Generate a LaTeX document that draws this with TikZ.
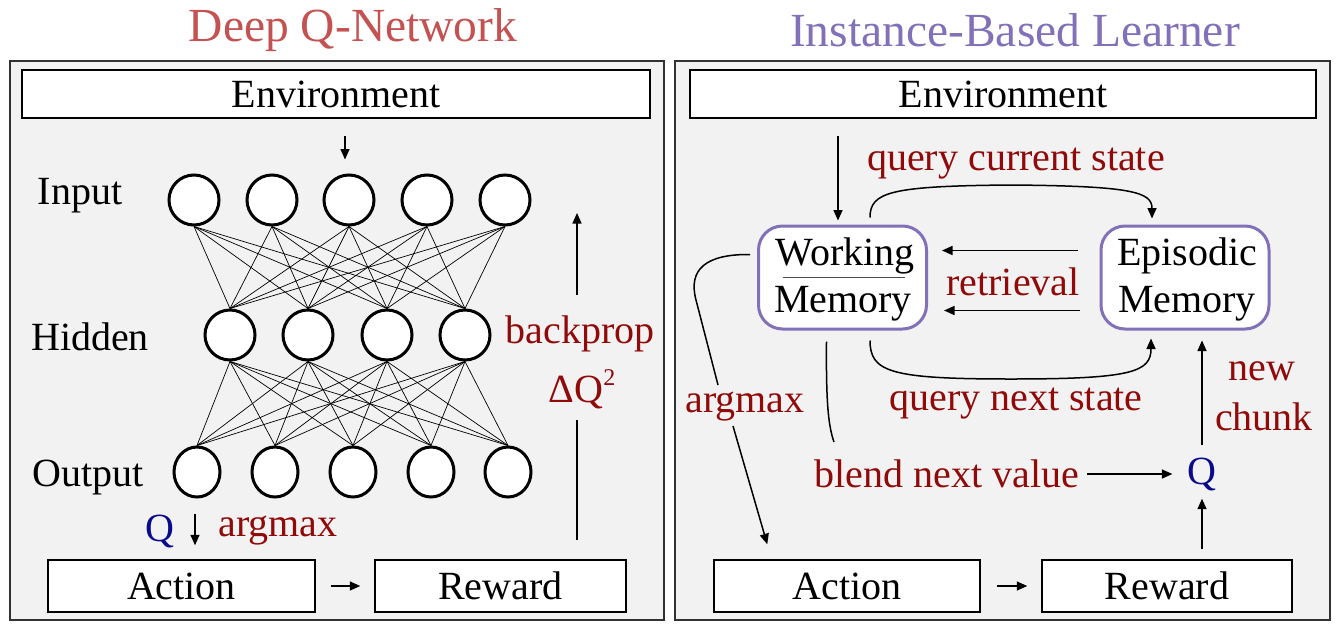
\documentclass[tikz,border=0pt]{standalone}
\usepackage{fontspec}
\setmainfont{Liberation Serif}
\usetikzlibrary{arrows.meta,shapes.geometric,calc}
\definecolor{panelbg}{RGB}{242,242,242}
\definecolor{panelline}{RGB}{50,50,50}
\definecolor{lblred}{RGB}{145,10,10}
\definecolor{qblue}{RGB}{10,10,140}
\definecolor{dqncol}{RGB}{196,82,82}
\definecolor{iblcol}{RGB}{130,112,184}
\definecolor{wmpurple}{RGB}{130,112,184}
\begin{document}
\begin{tikzpicture}[x=1pt,y=-1pt,
  >={Triangle[length=10.5pt,width=9pt]},
  txt/.style={font=\fontsize{40}{46}\selectfont, inner sep=0pt, yshift=-4pt},
  redtxt/.style={txt, text=lblred},
  qtxt/.style={txt, text=qblue},
  title/.style={font=\fontsize{47.5}{54}\selectfont, inner sep=0pt, yshift=-3pt},
  panel/.style={draw=panelline, line width=1.5pt, fill=panelbg},
  sqbox/.style={draw=black, line width=1.5pt, fill=white, rectangle, inner sep=0pt, font=\fontsize{40}{46}\selectfont},
  neuron/.style={draw=black, line width=3pt, fill=white, circle, minimum size=50pt, inner sep=0pt},
  oneuron/.style={draw=black, line width=3pt, fill=white, ellipse, minimum width=46pt, minimum height=50pt, inner sep=0pt},
  conn/.style={line width=0.7pt},
  arr/.style={->, line width=1.5pt},
  ln/.style={line width=1.5pt},
  membox/.style={draw=wmpurple, line width=3pt, fill=white, rectangle, rounded corners=24pt, minimum width=168pt, minimum height=103pt, inner sep=0pt}
]
\useasboundingbox (0,0) rectangle (1338,624);
\fill[white] (0,0) rectangle (1338,624);

% titles
\node[title, text=dqncol] (t1) at (353,27) {Deep Q-Network};
\node[title, text=iblcol] (t2) at (1015,27) {Instance-Based Learner};

% panels
\draw[panel] (10,61) rectangle (664,620);
\draw[panel] (675,61) rectangle (1330,620);

% ===== left panel =====
\node[sqbox, minimum width=628pt, minimum height=48pt] (envL) at (336,94) {Environment};

\node[txt] (lin) at (80,192) {Input};
\node[txt] (lhid) at (90,333) {Hidden};
\node[txt] (lout) at (88,474) {Output};

\foreach \x [count=\i] in {194,272,349,427,505}
  \node[neuron] (i\i) at (\x,200) {};
\foreach \x [count=\i] in {230,308,387,465}
  \node[neuron] (h\i) at (\x,335) {};
\foreach \x [count=\i] in {197,275,353,431,508}
  \node[oneuron] (o\i) at (\x,472) {};

\foreach \i in {1,...,5}
  \foreach \j in {1,...,4}
    \draw[conn] (i\i.south) -- (h\j.north);
\foreach \j in {1,...,4}
  \foreach \k in {1,...,5}
    \draw[conn] (h\j.south) -- (o\k.north);

\draw[arr] ($(envL.south)+(9,17)$) -- ($(i3.north)+(-4,-14)$);

\node[redtxt] (bp) at (580,330) {backprop};
\node[redtxt] (dq) at (582,385) {ΔQ\raisebox{17pt}{\fontsize{24}{24}\selectfont 2}};
\coordinate (bpa) at (577,540);
\coordinate (bpb) at (577,420);
\coordinate (bpc) at (577,295);
\coordinate (bpd) at (577,213);
\draw[ln] (bpa) -- (bpb);
\draw[arr] (bpc) -- (bpd);

\node[sqbox, minimum width=267pt, minimum height=52pt] (actL) at (181.5,586) {Action};
\node[sqbox, minimum width=251pt, minimum height=52pt] (rewL) at (500.5,586) {Reward};

\node[qtxt] (qL) at (160,527) {Q};
\node[redtxt] (amL) at (278,527) {argmax};
\draw[arr] ($(o1.south)+(-2,15)$) -- ($(actL.north)+(13.5,-14)$);
\draw[arr] ($(actL.east)+(15,0)$) -- ($(rewL.west)+(-14,0)$);

% ===== right panel =====
\node[sqbox, minimum width=626pt, minimum height=48pt] (envR) at (1003,94) {Environment};

\node[membox] (wm) at (842.5,277.5) {};
\node[txt] (wmt) at (845,252) {Working};
\node[txt] (wmb) at (843,300) {Memory};
\draw[line width=1pt, black!70] ($(wm.center)+(-60,0)$) -- ($(wm.center)+(62,0)$);

\node[membox] (em) at (1185,277.5) {};
\node[txt] (emt) at (1187,252) {Episodic};
\node[txt] (emb) at (1187,300) {Memory};

\draw[arr] ($(envR.south)+(-165,17)$) -- ($(wm.north)+(-4.5,-4)$);

\node[redtxt] (qcs) at (1016,160) {query current state};
\draw[arr] ($(wm.north)+(27.5,-7)$) .. controls (870,192) and (890,186) .. (1011,185)
  .. controls (1132,186) and (1152,192) .. ($(em.north)+(-33,-6)$);

\node[redtxt] (ret) at (1013,278) {retrieval};
\draw[arr] ($(em.west)+(-22,-27)$) -- ($(wm.east)+(14,-27)$);
\draw[arr] ($(em.west)+(-20,33)$) -- ($(wm.east)+(16,33)$);

\node[redtxt] (qns) at (1016,400) {query next state};
\draw[arr] ($(wm.south)+(27.5,10)$) .. controls (870,372) and (890,379) .. (1011,379)
  .. controls (1132,379) and (1151,372) .. ($(em.south)+(-34,8)$);

\node[qtxt] (qR) at (1202,470) {Q};
\node[redtxt] (nw) at (1262,367) {new};
\node[redtxt] (ch) at (1264,413) {chunk};
\draw[arr] ($(qR.north)+(0,-12)$) -- ($(em.south)+(17,10)$);

\node[redtxt] (bl) at (947,470) {blend next value};
\draw[arr] ($(bl.east)+(8,0)$) -- ($(qR.west)+(-15,0)$);
\coordinate (blt) at (834,442);
\draw[ln] ($(wm.south)+(-16,11)$) .. controls (826,400) and (828,425) .. (blt);

\node[sqbox, minimum width=266pt, minimum height=52pt] (actR) at (847,586) {Action};
\node[sqbox, minimum width=250pt, minimum height=52pt] (rewR) at (1167,586) {Reward};
\draw[arr] ($(actR.east)+(16,0)$) -- ($(rewR.west)+(-14,0)$);
\draw[arr] ($(rewR.north)+(35,-10)$) -- ($(qR.south)+(0,8)$);

\node[redtxt] (amR) at (745,403) {argmax};
\coordinate (am1) at (718,385);
\coordinate (am2) at (733,426);
\draw[ln] ($(wm.west)+(-7,-23)$) .. controls (705,254) and (688,270) .. (696,300) -- (am1);
\draw[arr] (am2) -- ($(actR.north west)+(54,-15)$);
\end{tikzpicture}
\end{document}
